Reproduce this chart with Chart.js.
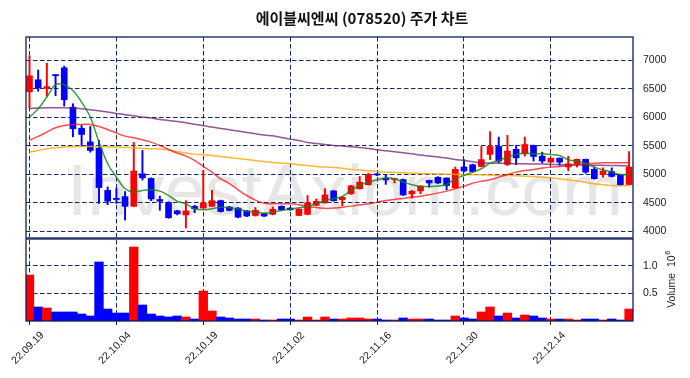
<!DOCTYPE html>
<html>
<head>
<meta charset="utf-8">
<script src="https://cdn.jsdelivr.net/npm/chart.js@4.4.1/dist/chart.umd.min.js"></script>
<style>
html,body{margin:0;padding:0;background:#ffffff;}
#wrap{position:relative;width:690px;height:378px;background:#ffffff;}
canvas{display:block;}
</style>
</head>
<body>
<div id="wrap"><canvas id="c" width="690" height="378"></canvas></div>
<script>
const titleText = '에이블씨엔씨 (078520) 주가 차트';
const watermarkText = 'InvestAxiom.com';
const dates = [
  '22.09.19','22.09.20','22.09.21','22.09.22','22.09.23','22.09.26','22.09.27','22.09.28','22.09.29','22.09.30',
  '22.10.04','22.10.05','22.10.06','22.10.07','22.10.11','22.10.12','22.10.13','22.10.14','22.10.17','22.10.18',
  '22.10.19','22.10.20','22.10.21','22.10.24','22.10.25','22.10.26','22.10.27','22.10.28','22.10.31','22.11.01',
  '22.11.02','22.11.03','22.11.04','22.11.07','22.11.08','22.11.09','22.11.10','22.11.11','22.11.14','22.11.15',
  '22.11.16','22.11.17','22.11.18','22.11.21','22.11.22','22.11.23','22.11.24','22.11.25','22.11.28','22.11.29',
  '22.11.30','22.12.01','22.12.02','22.12.05','22.12.06','22.12.07','22.12.08','22.12.09','22.12.12','22.12.13',
  '22.12.14','22.12.15','22.12.16','22.12.19','22.12.20','22.12.21','22.12.22','22.12.23','22.12.26','22.12.27'
];
const tickIndex = [0,10,20,30,40,50,60];
const opens = [
  6450,6660,6510,6750,6870,6180,5810,5570,5460,4720,
  4580,4610,4440,5010,4930,4560,4510,4360,4290,4440,
  4410,4440,4540,4430,4410,4360,4280,4310,4300,4440,
  4410,4280,4300,4460,4500,4710,4555,4660,4750,4820,
  5010,4930,4910,4910,4660,4710,4895,4950,4935,4765,
  5130,5170,5140,5350,5490,5175,5440,5360,5510,5320,
  5215,5285,5130,5185,5265,5090,4995,5050,4995,4820
];
const highs = [
  7080,6830,6950,6750,6900,6240,5860,5840,5600,4780,
  4760,4700,5560,5420,4940,4620,4520,4370,4540,4460,
  5070,4720,4550,4440,4420,4370,4420,4320,4430,4450,
  4420,4400,4630,4570,4750,4720,4610,4810,4965,5020,
  5020,5000,4930,4920,4720,4800,4900,4960,4940,5130,
  5260,5180,5490,5750,5655,5685,5510,5655,5515,5390,
  5290,5290,5320,5270,5270,5130,5115,5115,5000,5400
];
const lows = [
  6170,6460,6370,6380,6200,5660,5490,5390,4490,4470,
  4490,4200,4440,4900,4540,4370,4230,4290,4060,4330,
  4410,4440,4340,4360,4240,4260,4270,4260,4290,4370,
  4370,4280,4290,4450,4500,4530,4450,4650,4740,4810,
  4980,4825,4850,4630,4585,4660,4775,4840,4730,4760,
  5040,5040,5130,5260,5200,5155,5170,5320,5235,5200,
  5210,5160,5060,5130,5020,4915,4950,4955,4800,4810
];
const closes = [
  6730,6520,6540,6730,6310,5800,5700,5420,4770,4530,
  4560,4440,5060,4940,4570,4530,4240,4310,4360,4400,
  4500,4540,4350,4370,4250,4270,4370,4270,4390,4380,
  4380,4390,4500,4530,4640,4540,4600,4800,4865,5000,
  4990,4905,4925,4640,4705,4795,4850,4850,4805,5090,
  5060,5050,5260,5490,5235,5410,5290,5525,5315,5235,
  5285,5215,5185,5265,5040,4925,5060,4965,4820,5130
];
const volumes = [
  836000,255000,236000,164000,164000,164000,127000,91000,1073000,218000,
  145000,145000,1345000,291000,127000,91000,73000,91000,73000,36000,
  545000,182000,73000,55000,36000,36000,36000,18000,18000,36000,
  36000,18000,73000,18000,73000,36000,36000,55000,55000,36000,
  36000,18000,18000,55000,36000,36000,36000,18000,18000,91000,
  55000,36000,164000,255000,91000,145000,55000,109000,91000,55000,
  36000,36000,36000,18000,36000,36000,18000,36000,18000,218000
];
const ma5 = [
  6000,6152,6357,6573,6573,6473,6269,6006,5567,5187,
  4953,4748,4690,4719,4730,4707,4631,4530,4485,4397,
  4379,4397,4426,4414,4397,4356,4338,4321,4338,4368,
  4391,4414,4438,4485,4543,4575,4613,4719,4806,4865,
  4906,4941,4923,4865,4818,4789,4789,4795,4824,4923,
  4982,5040,5099,5198,5245,5304,5350,5374,5362,5362,
  5350,5333,5257,5234,5198,5128,5081,5040,5000,4994
];
const ma20 = [
  5596,5666,5742,5818,5859,5877,5877,5877,5842,5789,
  5725,5672,5643,5608,5567,5508,5438,5375,5321,5245,
  5140,5040,4923,4840,4730,4630,4550,4496,4485,4485,
  4485,4467,4438,4420,4405,4409,4426,4444,4467,4485,
  4514,4543,4561,4578,4601,4619,4643,4672,4707,4748,
  4795,4847,4880,4906,4953,5000,5040,5070,5087,5111,
  5128,5140,5157,5175,5187,5198,5204,5204,5204,5204
];
const ma60 = [
  5391,5420,5450,5467,5479,5491,5491,5491,5491,5485,
  5479,5473,5467,5456,5450,5444,5432,5403,5374,5356,
  5345,5333,5315,5298,5280,5263,5245,5228,5210,5198,
  5187,5169,5157,5140,5128,5122,5110,5087,5076,5064,
  5052,5040,5035,5029,5023,5017,5012,5006,5005,5000,
  4994,4994,4994,4988,4982,4982,4976,4970,4964,4953,
  4941,4923,4906,4883,4859,4836,4818,4806,4800,4812
];
const ma120 = [
  6158,6164,6170,6170,6170,6164,6152,6135,6117,6094,
  6070,6046,6029,6006,5988,5965,5947,5927,5906,5880,
  5853,5830,5807,5783,5760,5736,5713,5690,5678,5649,
  5619,5596,5561,5543,5526,5508,5497,5485,5473,5456,
  5432,5415,5397,5380,5362,5339,5321,5304,5286,5263,
  5245,5222,5204,5198,5198,5193,5187,5187,5181,5181,
  5175,5170,5168,5166,5164,5162,5160,5157,5154,5152
];
const priceTicks = [4000,4500,5000,5500,6000,6500,7000];
const volumeTicks = [500000,1000000];

const UP = '#ff0000', DOWN = '#0000ff';
const GRID = '#14296b';
const FRAME = '#0c1f5c';
const candleColors = opens.map((o,i)=> closes[i] >= o ? UP : DOWN);
const pts = arr => arr.map((v,i)=>({x:i, y:v}));

const framePlugin = {
  id:'frame',
  beforeDraw(chart){
    const c = chart.ctx;
    c.save();
    c.fillStyle = '#ffffff';
    c.fillRect(0,0,chart.width,chart.height);
    const ya = chart.scales.y;
    c.beginPath();
    c.rect(chart.chartArea.left, ya.top, chart.chartArea.right-chart.chartArea.left, ya.bottom-ya.top);
    c.clip();
    c.font = '73px "Liberation Sans", Arial, sans-serif';
    c.fillStyle = '#e6e6e6';
    c.textAlign = 'center';
    c.textBaseline = 'alphabetic';
    c.fillText(watermarkText, 345, 215);
    c.restore();
  },
  afterDraw(chart){
    const c = chart.ctx;
    const a = chart.chartArea;
    const ya = chart.scales.y, yv = chart.scales.yv, xs = chart.scales.x;
    c.save();
    c.font = 'bold 15px "Noto Sans CJK KR", sans-serif';
    c.fillStyle = '#111111';
    c.textAlign = 'center';
    c.textBaseline = 'alphabetic';
    c.fillText(titleText, 362, 24);
    c.strokeStyle = FRAME;
    c.lineWidth = 1.3;
    c.strokeRect(a.left, ya.top, a.right-a.left, ya.bottom-ya.top);
    c.strokeRect(a.left, yv.top+1, a.right-a.left, yv.bottom-yv.top-1);
    c.font = '10.5px "Liberation Sans", Arial, sans-serif';
    c.fillStyle = '#222222';
    tickIndex.forEach(i=>{
      const px = xs.getPixelForValue(i);
      c.save();
      c.translate(px-1.5, 348);
      c.rotate(-Math.PI/4);
      c.textAlign = 'center';
      c.textBaseline = 'middle';
      c.fillText(dates[i], 0, 0);
      c.restore();
    });
    c.save();
    const cy = (yv.top + yv.bottom)/2;
    c.translate(675, cy);
    c.rotate(-Math.PI/2);
    c.textBaseline = 'alphabetic';
    c.textAlign = 'left';
    c.font = '10.5px "Liberation Sans", Arial, sans-serif';
    const main = 'Volume  10';
    const w1 = c.measureText(main).width;
    c.font = '7.5px "Liberation Sans", Arial, sans-serif';
    const w2 = c.measureText('6').width;
    const start = -(w1+w2)/2;
    c.font = '10.5px "Liberation Sans", Arial, sans-serif';
    c.fillText(main, start, 0);
    c.font = '7.5px "Liberation Sans", Arial, sans-serif';
    c.fillText('6', start+w1+0.5, -5);
    c.restore();
    c.restore();
  }
};

const lineDs = (label, data, color) => ({
  type:'line', label, data: pts(data), yAxisID:'y',
  borderColor: color, borderWidth: 1.5, pointRadius: 0, tension: 0.3, fill:false
});

new Chart(document.getElementById('c'), {
  type:'bar',
  data:{ datasets:[
    lineDs('MA5', ma5, 'rgba(20,130,20,0.8)'),
    lineDs('MA20', ma20, 'rgba(255,0,0,0.7)'),
    lineDs('MA60', ma60, 'rgba(255,165,0,0.8)'),
    lineDs('MA120', ma120, 'rgba(110,30,110,0.75)'),
    { type:'bar', label:'body', yAxisID:'y', grouped:false,
      data: opens.map((o,i)=>({x:i, y:[o, closes[i]]})),
      backgroundColor: candleColors, borderWidth:0, barThickness:6, minBarLength:1 },
    { type:'bar', label:'wick', yAxisID:'y', grouped:false,
      data: lows.map((l,i)=>({x:i, y:[l, highs[i]]})),
      backgroundColor: candleColors, borderWidth:0, barThickness:1.3 },
    { type:'bar', label:'volume', yAxisID:'yv', grouped:false,
      data: pts(volumes),
      backgroundColor: candleColors, borderWidth:0, barPercentage:1, categoryPercentage:1 }
  ]},
  options:{
    responsive:false, animation:false, devicePixelRatio:1,
    layout:{ padding:{ left:26, top:37, right:0, bottom:0 } },
    plugins:{ legend:{display:false}, tooltip:{enabled:false}, title:{display:false} },
    scales:{
      x:{ type:'linear', min:-0.4, max:69.45, position:'bottom', offset:false,
        afterBuildTicks: s => { s.ticks = tickIndex.map(v=>({value:v})); },
        afterFit: s => { s.height = 57; },
        ticks:{ display:false },
        grid:{ offset:false, color:GRID, lineWidth:1, drawTicks:true, tickLength:4, tickColor:'#222222', tickWidth:1, tickBorderDash:[] },
        border:{ display:false, dash:[4.5,2.5] }
      },
      y:{ type:'linear', position:'right', stack:'main', stackWeight:201, min:3885, max:7410,
        afterBuildTicks: s => { s.ticks = priceTicks.map(v=>({value:v})); },
        afterFit: s => { s.width = 57; },
        ticks:{ padding:10, color:'#222222', font:{ family:'"Liberation Sans", Arial, sans-serif', size:10.5 },
          callback: v => String(v) },
        grid:{ color:GRID, lineWidth:1, drawTicks:false },
        border:{ display:false, dash:[4.5,2.5] }
      },
      yv:{ type:'linear', position:'right', stack:'main', stackWeight:83, min:0, max:1509000,
        afterBuildTicks: s => { s.ticks = volumeTicks.map(v=>({value:v})); },
        afterFit: s => { s.width = 57; },
        ticks:{ padding:10, color:'#222222', font:{ family:'"Liberation Sans", Arial, sans-serif', size:10.5 },
          callback: v => (v/1e6).toFixed(1) },
        grid:{ color:GRID, lineWidth:1, drawTicks:false },
        border:{ display:false, dash:[4.5,2.5] }
      }
    }
  },
  plugins:[framePlugin]
});
</script>
</body>
</html>
